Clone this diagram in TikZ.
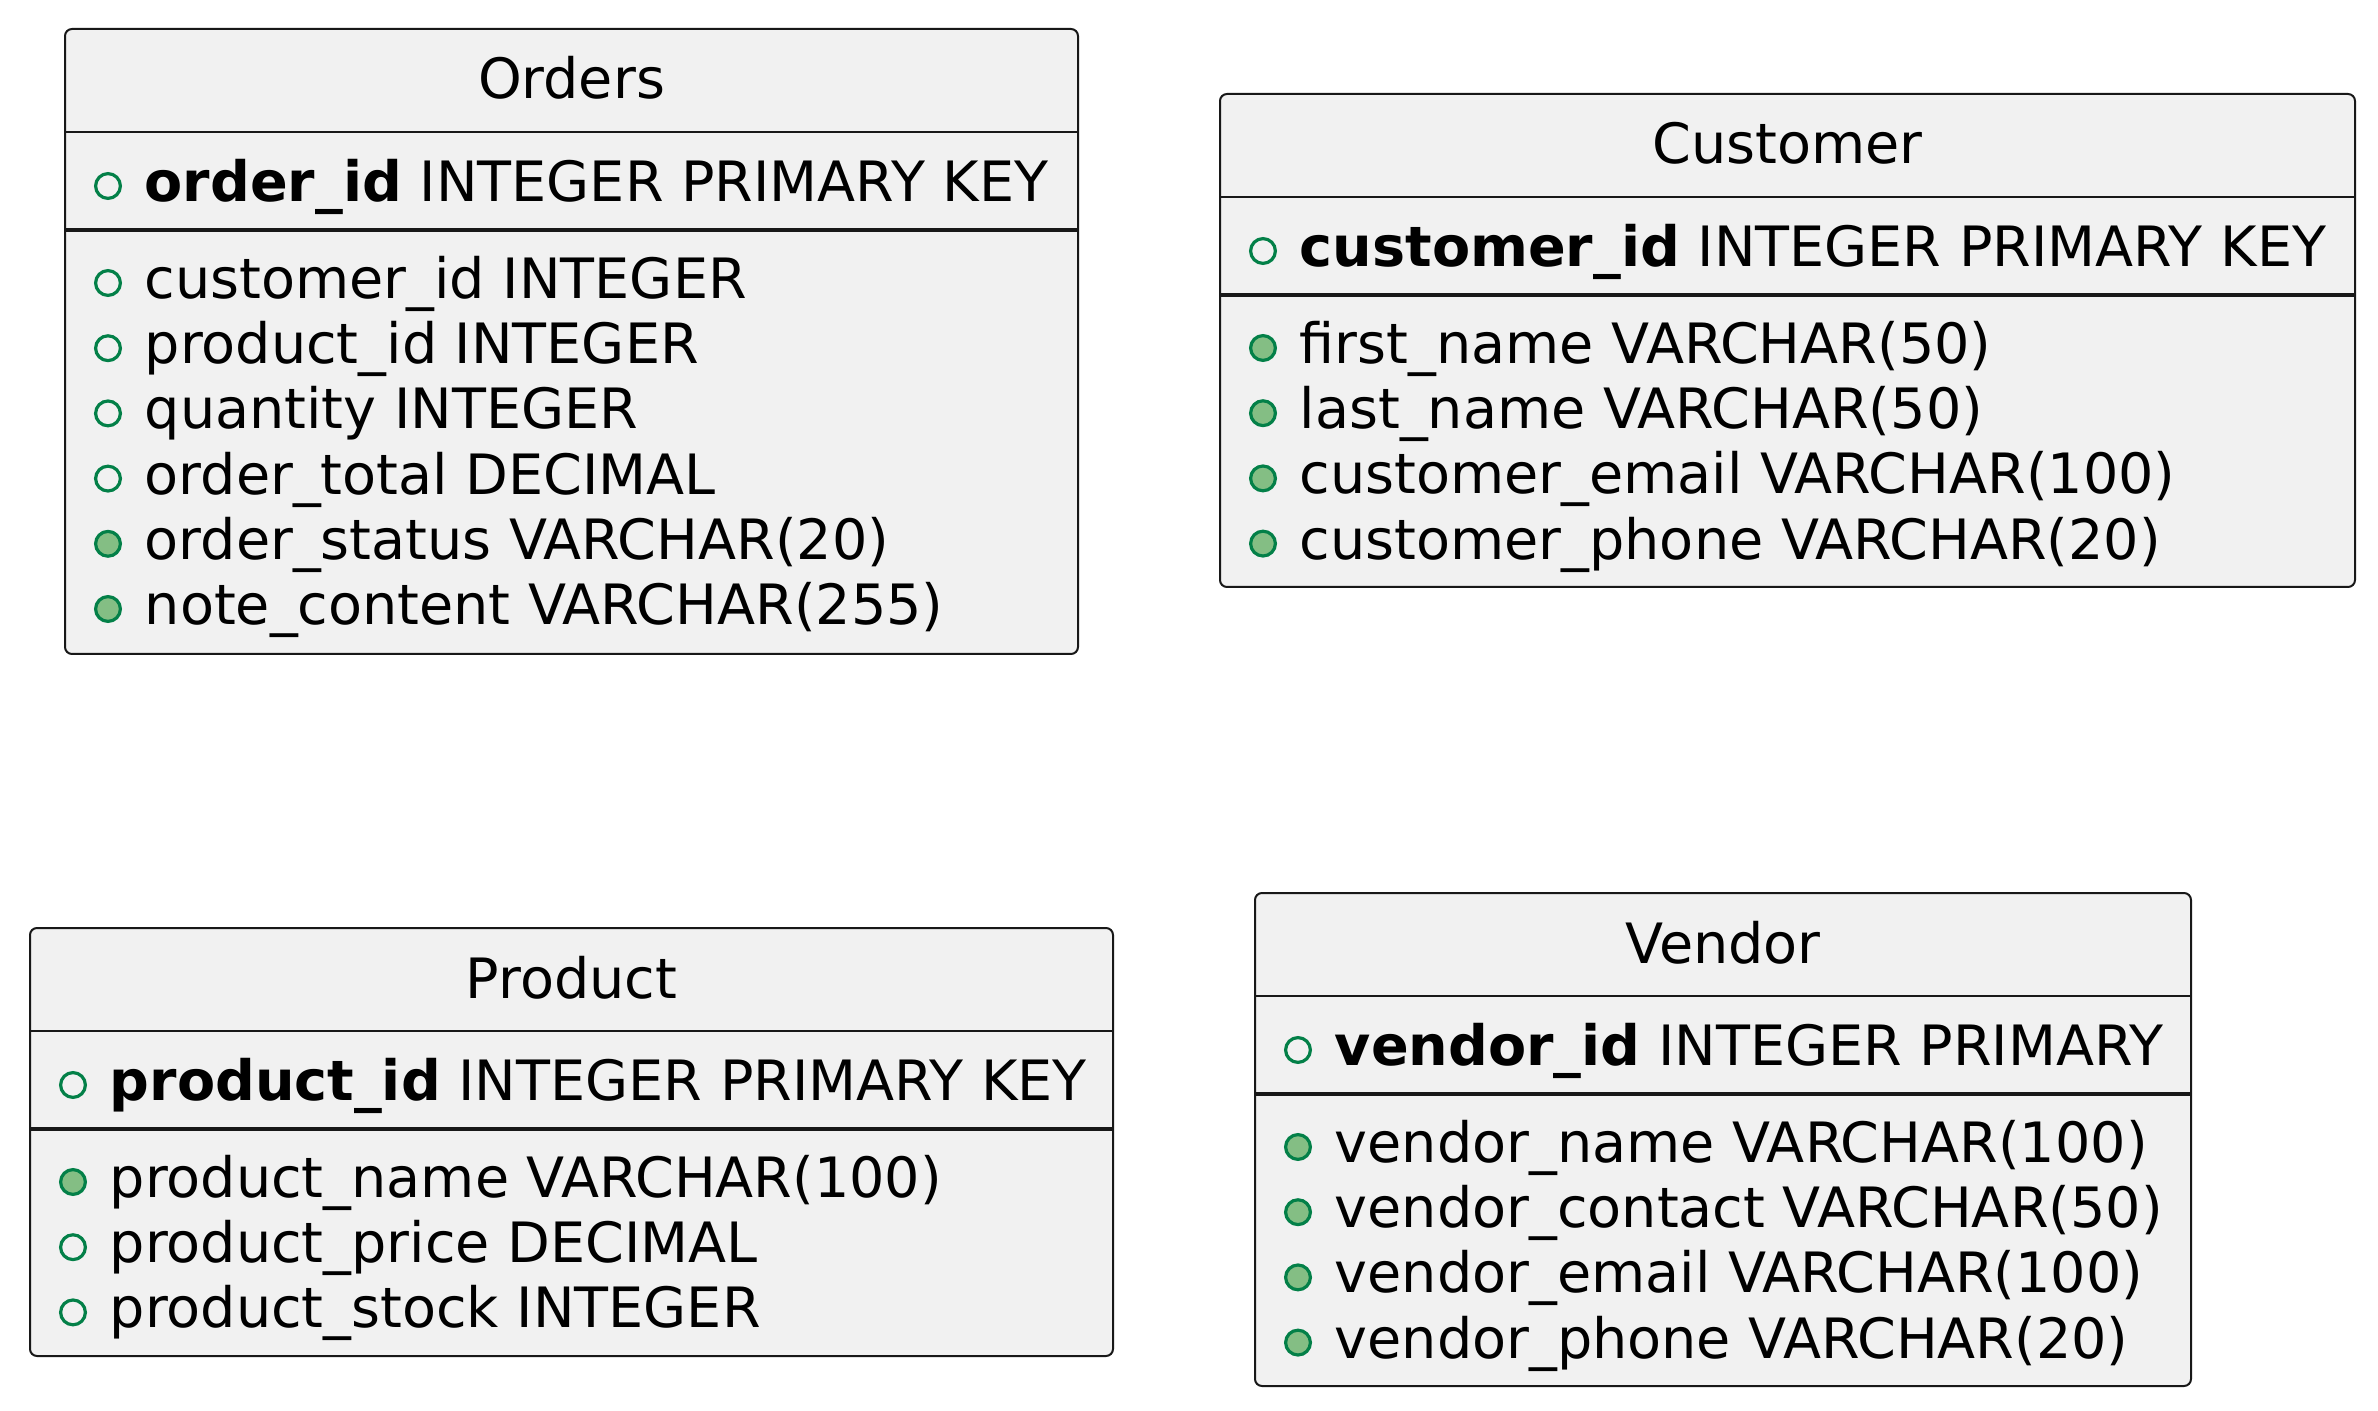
\documentclass[tikz,border=0pt]{standalone}
\usepackage{fontspec}
\setmainfont{DejaVu Sans}
\usetikzlibrary{calc}
\definecolor{tblfill}{HTML}{F1F1F1}
\definecolor{tblline}{HTML}{181818}
\definecolor{vis}{HTML}{038048}
\definecolor{visfill}{HTML}{84BE84}
\tikzstyle{tbl} = [draw=tblline,fill=tblfill,line width=0.5pt,rounded corners=1.75pt,inner sep=0,anchor=north west]
\tikzstyle{title} = [inner sep=0,anchor=base,font=\fontsize{13.9}{16}\selectfont]
\tikzstyle{field} = [inner sep=0,anchor=base west,font=\fontsize{13.9}{16}\selectfont]
\tikzstyle{pub} = [circle,draw=vis,line width=0.8pt,minimum size=6.2pt,inner sep=0]
\tikzstyle{pubf} = [pub,fill=visfill]
\tikzstyle{thinsep} = [draw=tblline,line width=0.4pt]
\tikzstyle{thicksep} = [draw=tblline,line width=0.9pt]

\begin{document}
\begin{tikzpicture}[x=0.25pt,y=-0.25pt]
    \useasboundingbox (0,0) rectangle (2378,1411);
    \def\rs{65.2}

% Orders
    \node[tbl,minimum width=253.25pt,minimum height=156.25pt] (orders) at (64,28) {};
    \node[title] (ordersT) at ($(orders.north)+(0,71)$) {Orders};
    \draw[thinsep] ($(orders.north west)+(0,104)$) -- ($(orders.north east)+(0,104)$);
    \node[pub] (ordersK) at ($(orders.north west)+(44,158)$) {};
    \node[field] (ordersKt) at ($(orders.north west)+(80,173.5)$) {\textbf{order\_id} INTEGER PRIMARY KEY};
    \draw[thicksep] ($(orders.north west)+(0,202)$) -- ($(orders.north east)+(0,202)$);
    \node[pub] (orders1) at ($(orders.north west)+(44,255)$) {};
    \node[field] (orders1t) at ($(orders.north west)+(80,270.5)$) {customer\_id INTEGER};
    \node[pub] (orders2) at ($(orders.north west)+(44,255+\rs)$) {};
    \node[field] (orders2t) at ($(orders.north west)+(80,270.5+\rs)$) {product\_id INTEGER};
    \node[pub] (orders3) at ($(orders.north west)+(44,255+2*\rs)$) {};
    \node[field] (orders3t) at ($(orders.north west)+(80,270.5+2*\rs)$) {quantity INTEGER};
    \node[pub] (orders4) at ($(orders.north west)+(44,255+3*\rs)$) {};
    \node[field] (orders4t) at ($(orders.north west)+(80,270.5+3*\rs)$) {order\_total DECIMAL};
    \node[pubf] (orders5) at ($(orders.north west)+(44,255+4*\rs)$) {};
    \node[field] (orders5t) at ($(orders.north west)+(80,270.5+4*\rs)$) {order\_status VARCHAR(20)};
    \node[pubf] (orders6) at ($(orders.north west)+(44,255+5*\rs)$) {};
    \node[field] (orders6t) at ($(orders.north west)+(80,270.5+5*\rs)$) {note\_content VARCHAR(255)};

% Customer
    \node[tbl,minimum width=283.75pt,minimum height=123.25pt] (cust) at (1219,93) {};
    \node[title] (custT) at ($(cust.north)+(0,71)$) {Customer};
    \draw[thinsep] ($(cust.north west)+(0,104)$) -- ($(cust.north east)+(0,104)$);
    \node[pub] (custK) at ($(cust.north west)+(44,158)$) {};
    \node[field] (custKt) at ($(cust.north west)+(80,173.5)$) {\textbf{customer\_id} INTEGER PRIMARY KEY};
    \draw[thicksep] ($(cust.north west)+(0,202)$) -- ($(cust.north east)+(0,202)$);
    \node[pubf] (cust1) at ($(cust.north west)+(44,255)$) {};
    \node[field] (cust1t) at ($(cust.north west)+(80,270.5)$) {first\_name VARCHAR(50)};
    \node[pubf] (cust2) at ($(cust.north west)+(44,255+\rs)$) {};
    \node[field] (cust2t) at ($(cust.north west)+(80,270.5+\rs)$) {last\_name VARCHAR(50)};
    \node[pubf] (cust3) at ($(cust.north west)+(44,255+2*\rs)$) {};
    \node[field] (cust3t) at ($(cust.north west)+(80,270.5+2*\rs)$) {customer\_email VARCHAR(100)};
    \node[pubf] (cust4) at ($(cust.north west)+(44,255+3*\rs)$) {};
    \node[field] (cust4t) at ($(cust.north west)+(80,270.5+3*\rs)$) {customer\_phone VARCHAR(20)};

% Product
    \node[tbl,minimum width=270.75pt,minimum height=107pt] (prod) at (29,927) {};
    \node[title] (prodT) at ($(prod.north)+(0,71)$) {Product};
    \draw[thinsep] ($(prod.north west)+(0,104)$) -- ($(prod.north east)+(0,104)$);
    \node[pub] (prodK) at ($(prod.north west)+(44,158)$) {};
    \node[field] (prodKt) at ($(prod.north west)+(80,173.5)$) {\textbf{product\_id} INTEGER PRIMARY KEY};
    \draw[thicksep] ($(prod.north west)+(0,202)$) -- ($(prod.north east)+(0,202)$);
    \node[pubf] (prod1) at ($(prod.north west)+(44,255)$) {};
    \node[field] (prod1t) at ($(prod.north west)+(80,270.5)$) {product\_name VARCHAR(100)};
    \node[pub] (prod2) at ($(prod.north west)+(44,255+\rs)$) {};
    \node[field] (prod2t) at ($(prod.north west)+(80,270.5+\rs)$) {product\_price DECIMAL};
    \node[pub] (prod3) at ($(prod.north west)+(44,255+2*\rs)$) {};
    \node[field] (prod3t) at ($(prod.north west)+(80,270.5+2*\rs)$) {product\_stock INTEGER};

% Vendor
    \node[tbl,minimum width=234pt,minimum height=123.25pt] (vend) at (1254,892) {};
    \node[title] (vendT) at ($(vend.north)+(0,71)$) {Vendor};
    \draw[thinsep] ($(vend.north west)+(0,104)$) -- ($(vend.north east)+(0,104)$);
    \node[pub] (vendK) at ($(vend.north west)+(44,158)$) {};
    \node[field] (vendKt) at ($(vend.north west)+(80,173.5)$) {\textbf{vendor\_id} INTEGER PRIMARY};
    \draw[thicksep] ($(vend.north west)+(0,202)$) -- ($(vend.north east)+(0,202)$);
    \node[pubf] (vend1) at ($(vend.north west)+(44,255)$) {};
    \node[field] (vend1t) at ($(vend.north west)+(80,270.5)$) {vendor\_name VARCHAR(100)};
    \node[pubf] (vend2) at ($(vend.north west)+(44,255+\rs)$) {};
    \node[field] (vend2t) at ($(vend.north west)+(80,270.5+\rs)$) {vendor\_contact VARCHAR(50)};
    \node[pubf] (vend3) at ($(vend.north west)+(44,255+2*\rs)$) {};
    \node[field] (vend3t) at ($(vend.north west)+(80,270.5+2*\rs)$) {vendor\_email VARCHAR(100)};
    \node[pubf] (vend4) at ($(vend.north west)+(44,255+3*\rs)$) {};
    \node[field] (vend4t) at ($(vend.north west)+(80,270.5+3*\rs)$) {vendor\_phone VARCHAR(20)};

\end{tikzpicture}
\end{document}
